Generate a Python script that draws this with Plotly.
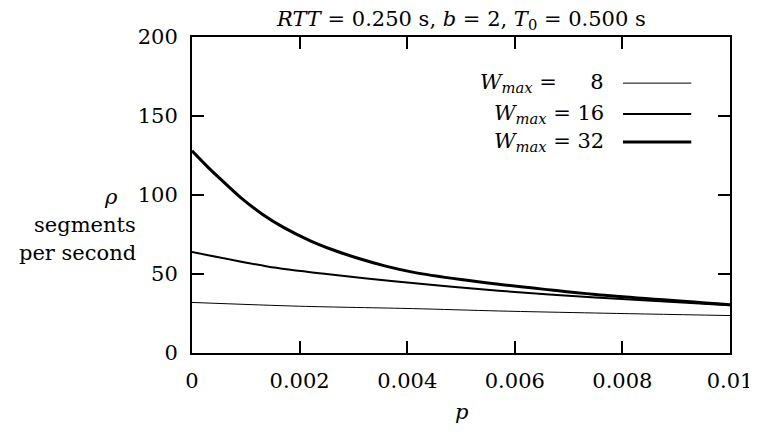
import plotly.graph_objects as go

# Data
p_32 = [0.0, 0.0003, 0.0005, 0.0009, 0.0013, 0.0017, 0.0022, 0.0026, 0.0031, 0.0036, 0.0041, 0.005, 0.0057, 0.0075, 0.01]
rho_32 = [128.0, 117.5, 111.0, 98.5, 88.0, 79.5, 71.0, 65.5, 59.8, 55.0, 51.2, 46.5, 43.5, 37.0, 30.6]

p_16 = [0.0, 0.0014, 0.0025, 0.0038, 0.0057, 0.0075, 0.01]
rho_16 = [64.0, 54.8, 50.0, 45.3, 39.4, 35.2, 30.2]

p_8 = [0.0, 0.002, 0.0041, 0.0057, 0.0075, 0.01]
rho_8 = [32.0, 29.6, 28.1, 26.6, 25.3, 23.7]

x_ticks = [0, 0.002, 0.004, 0.006, 0.008, 0.01]
x_tick_text = ["0", "0.002", "0.004", "0.006", "0.008", "0.01"]
y_ticks = [0, 50, 100, 150, 200]

legend_labels = ["<i>W</i><sub><i>max</i></sub> = \u2007\u20078",
                 "<i>W</i><sub><i>max</i></sub> = 16",
                 "<i>W</i><sub><i>max</i></sub> = 32"]
line_widths = [1, 2, 3]

FONT = "DejaVu Serif"
FS = 21

fig = go.Figure()
series = [(p_8, rho_8), (p_16, rho_16), (p_32, rho_32)]
for (xs, ys), w in zip(series, line_widths):
    fig.add_trace(go.Scatter(x=xs, y=ys, mode="lines",
                             line=dict(color="black", width=w, shape="spline", smoothing=0.8),
                             showlegend=False, hoverinfo="skip"))

# custom legend: text then line sample
leg_y = [0.854, 0.756, 0.668]
for lab, yy, w in zip(legend_labels, leg_y, line_widths):
    fig.add_annotation(x=0.770, y=yy, xref="paper", yref="paper", text=lab,
                       showarrow=False, xanchor="right", yanchor="middle",
                       font=dict(family=FONT, size=FS, color="black"))
    fig.add_shape(type="line", xref="paper", yref="paper", x0=0.801, x1=0.928,
                  y0=yy, y1=yy, line=dict(color="black", width=w))

# y axis label
fig.add_annotation(x=-0.1344, y=0.494, xref="paper", yref="paper", text="<i>ρ</i>",
                   showarrow=False, xanchor="right", yanchor="middle",
                   font=dict(family=FONT, size=FS, color="black"))
fig.add_annotation(x=-0.1013, y=0.405, xref="paper", yref="paper", text="segments",
                   showarrow=False, xanchor="right", yanchor="middle",
                   font=dict(family=FONT, size=FS, color="black"))
fig.add_annotation(x=-0.1013, y=0.316, xref="paper", yref="paper", text="per second",
                   showarrow=False, xanchor="right", yanchor="middle",
                   font=dict(family=FONT, size=FS, color="black"))
# x axis label
fig.add_annotation(x=0.5, y=-0.187, xref="paper", yref="paper", text="<i>p</i>",
                   showarrow=False, xanchor="center", yanchor="middle",
                   font=dict(family=FONT, size=FS, color="black"))
# title
fig.add_annotation(x=0.5, y=1.0, xref="paper", yref="paper", yshift=2,
                   text="<i>RTT</i> = 0.250 s, <i>b</i> = 2, <i>T</i><sub>0</sub> = 0.500 s",
                   showarrow=False, xanchor="center", yanchor="bottom",
                   font=dict(family=FONT, size=FS, color="black"))

axis_common = dict(showline=True, linecolor="black", linewidth=2, mirror="ticks",
                   ticks="inside", ticklen=12, tickwidth=1.5, tickcolor="black",
                   showgrid=False, zeroline=False,
                   tickfont=dict(family=FONT, size=FS, color="black"))

fig.update_xaxes(range=[0, 0.01], tickvals=x_ticks, ticktext=x_tick_text,
                 ticklabelstandoff=8, **axis_common)
fig.update_yaxes(range=[0, 200], tickvals=y_ticks, ticklabelstandoff=8, **axis_common)

fig.update_layout(width=757, height=435, margin=dict(l=184, r=30, t=29, b=90),
                  paper_bgcolor="white", plot_bgcolor="white",
                  font=dict(family=FONT, size=FS, color="black"))

fig.write_html("out.html")
